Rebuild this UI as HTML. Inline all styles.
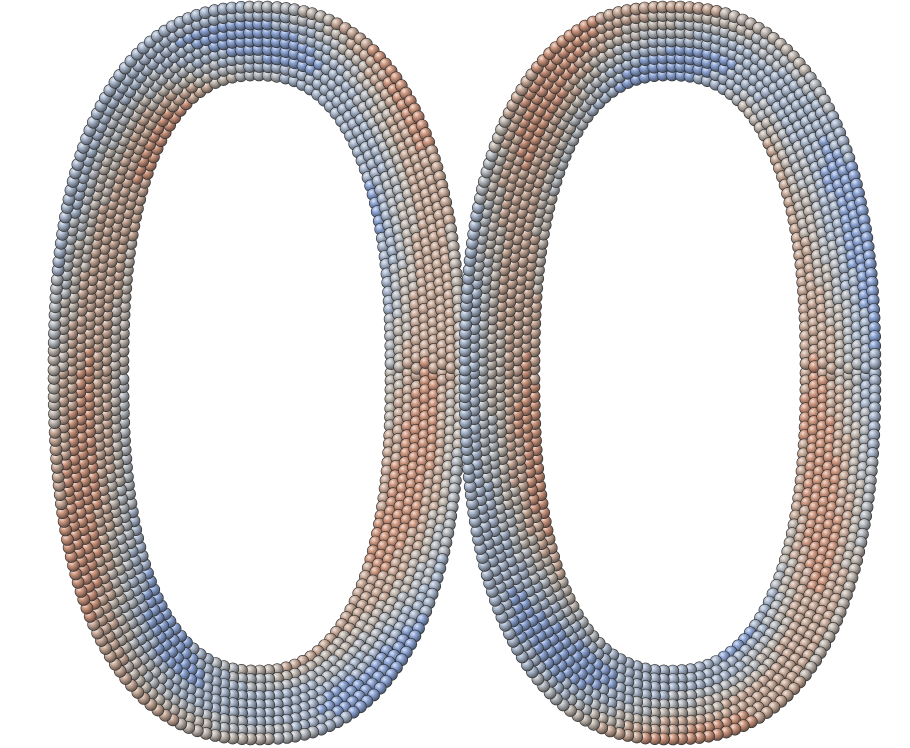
<!DOCTYPE html>
<html><head><meta charset="utf-8">
<style>
html,body{margin:0;padding:0;background:#fff;}
svg{display:block;}
</style></head>
<body>
<svg id="chart" width="910" height="748" viewBox="0 0 910 748" xmlns="http://www.w3.org/2000/svg">
<defs id="defs"></defs>
<g id="rings"></g>
</svg>
<script>
// Ring parameters
const ringNames = ['left-ring','right-ring'];
const ringCenterX = [257, 670];
const ringCenterY = [373, 373];
const ringOuterRx = [203, 205];
const ringOuterRy = [366, 366];
const ringInnerRx = [134, 136];
const ringInnerRy = [298, 298];
const ringPhase = [0.0, 1.2];
const ringMirror = [1, -1];
// colour palette bins (blue -> grey -> red)
const paletteColors = ['#6a8bd6','#8ea6d6','#a9b7cc','#b8bcc2','#c2b9b1','#c9ab9a','#cf9880','#cd7a5c'];

const svgNS='http://www.w3.org/2000/svg';
const defs=document.getElementById('defs');
function shade(hex,f){
  const n=parseInt(hex.slice(1),16);let r=n>>16,g=(n>>8)&255,b=n&255;
  if(f>0){r+=(255-r)*f;g+=(255-g)*f;b+=(255-b)*f;}else{r*=1+f;g*=1+f;b*=1+f;}
  return 'rgb('+Math.round(r)+','+Math.round(g)+','+Math.round(b)+')';
}
paletteColors.forEach((c,i)=>{
  const g=document.createElementNS(svgNS,'radialGradient');
  g.setAttribute('id','g'+i);g.setAttribute('cx','0.35');g.setAttribute('cy','0.3');g.setAttribute('r','0.75');
  [[0,shade(c,0.7)],[0.35,c],[1,shade(c,-0.55)]].forEach(s=>{
    const st=document.createElementNS(svgNS,'stop');st.setAttribute('offset',s[0]);st.setAttribute('stop-color',s[1]);g.appendChild(st);
  });
  defs.appendChild(g);
});
const root=document.getElementById('rings');
const layers=9, sphereR=6, expo=2.4, SAMPLES=2000;
function se(t){const c=Math.cos(t),s=Math.sin(t);return [Math.sign(c)*Math.pow(Math.abs(c),2/expo),Math.sign(s)*Math.pow(Math.abs(s),2/expo)];}
ringNames.forEach((name,k)=>{
  const grp=document.createElementNS(svgNS,'g');
  
  
  root.appendChild(grp);
  for(let l=0;l<layers;l++){
    const f=l/(layers-1);
    const rx=ringInnerRx[k]+(ringOuterRx[k]-ringInnerRx[k])*f;
    const ry=ringInnerRy[k]+(ringOuterRy[k]-ringInnerRy[k])*f;
    const pts=[],cum=[0];
    for(let i=0;i<=SAMPLES;i++){const p=se(i/SAMPLES*2*Math.PI);pts.push([p[0]*rx,p[1]*ry]);
      if(i>0)cum.push(cum[i-1]+Math.hypot(pts[i][0]-pts[i-1][0],pts[i][1]-pts[i-1][1]));}
    const per=cum[SAMPLES];
    const n=Math.round(per/9);
    let idx=0;
    for(let j=0;j<n;j++){
      const target=(j+(l%2)*0.5)/n*per;
      while(idx<SAMPLES-1&&cum[idx+1]<target)idx++;
      const th=idx/SAMPLES*2*Math.PI;
      const x=ringCenterX[k]+pts[idx][0];
      const y=ringCenterY[k]+pts[idx][1];
      const v=Math.sin(2*ringMirror[k]*th+ringPhase[k]+f*3.0)*0.6+0.15*Math.sin(5*th);
      let bin=Math.round((v+1)/2*(paletteColors.length-1));
      bin=Math.max(0,Math.min(paletteColors.length-1,bin));
      const c=document.createElementNS(svgNS,'circle');
      
      
      c.setAttribute('cx',x.toFixed(1));c.setAttribute('cy',y.toFixed(1));c.setAttribute('r',sphereR);
      c.setAttribute('fill','url(#g'+bin+')');c.setAttribute('stroke','#2a2a2a');c.setAttribute('stroke-width','0.6');
      grp.appendChild(c);
    }
  }
});
</script>
</body></html>
